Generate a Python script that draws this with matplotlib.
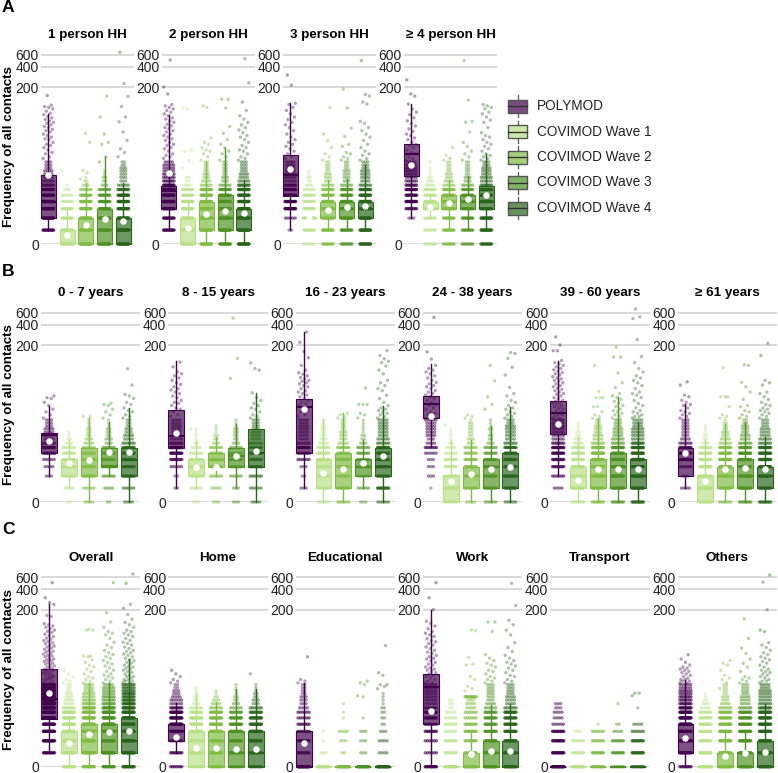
import numpy as np
import matplotlib
matplotlib.use('Agg')
import matplotlib.pyplot as plt
from matplotlib.colors import to_rgba
from matplotlib.patches import Rectangle

plt.rcParams['font.family'] = ['Liberation Sans', 'DejaVu Sans']

W, H = 778, 773

SERIES = ['POLYMOD', 'COVIMOD Wave 1', 'COVIMOD Wave 2', 'COVIMOD Wave 3', 'COVIMOD Wave 4']
COLORS = ['#40004b', '#b8e186', '#7fbc41', '#4d9221', '#276419']
YTICKS = [0, 200, 400, 600]

# the discrete rows of low values seen in every box
LEVELS = [0, 0.6, 1.4, 2.3, 3.2, 4.2, 5.3, 6.3, 7.4, 8.5, 9.6, 10.8, 12, 13.4, 15]

# each box: low whisker, q1, median, q3, high whisker, mean
A_TITLES = ['1 person HH', '2 person HH', '3 person HH', '≥ 4 person HH']
A_BOXES = [
    [(.6, 1.4, 3.2, 9.2, 81, 9.3), (0, 0, 0, .6, 2.3, .35), (0, 0, .6, 1.4, 6.9, .9), (0, 0, .6, 2.3, 18, 1.3), (0, 0, .6, 1.4, 6.9, 1.2)],
    [(.6, 2.3, 5, 6.1, 77, 10), (0, 0, .6, 1.4, 3.2, .7), (0, .6, 1.4, 3.2, 15, 1.75), (0, .6, 1.4, 4.2, 25, 2), (0, .6, 1.4, 2.3, 7.7, 1.85)],
    [(.6, 4, 9.3, 19, 115, 11.8), (1.4, 1.4, 1.4, 1.4, 1.4, 1.4), (.6, 1.4, 2.3, 3.2, 7.7, 2.2), (.6, 1.4, 2.3, 3.2, 8, 2.5), (.6, 1.4, 2.3, 3.2, 13.4, 2.6)],
    [(1.4, 9, 20, 28, 112, 13.4), (1.4, 2.3, 2.3, 3.2, 4.2, 2.5), (.6, 2.3, 3.2, 4.2, 7.7, 3), (.6, 2.3, 3.2, 4.2, 9, 3.6), (.6, 2.3, 3.2, 6.1, 20, 4.2)],
]
A_COUNTS = [
    [[0, 10, 12, 14, 14, 14, 12, 7, 5, 4, 4, 4, 3, 3, 3], [12, 10, 9, 8, 6, 5, 3, 1], [14, 14, 12, 11, 10, 9, 6, 3, 2, 1], [14, 14, 12, 11, 10, 9, 7, 3, 2, 2, 1, 1], [15, 15, 14, 13, 12, 11, 9, 5, 3, 3, 3, 3, 3, 2, 2]],
    [[0, 10, 10, 14, 15, 15, 15, 10, 7, 6, 6, 5, 5, 5, 4], [13, 13, 13, 12, 11, 9, 7, 3, 2, 2], [12, 14, 13, 13, 12, 12, 10, 5, 4, 3, 3, 2, 2, 2, 2], [11, 13, 12, 12, 11, 10, 9, 5, 3, 3, 2, 2, 2, 2, 2], [15, 15, 15, 14, 14, 13, 12, 8, 5, 4, 4, 3, 3, 3, 3]],
    [[0, 2, 5, 12, 11, 12, 12, 8, 5, 5, 5, 4, 4, 4, 4], [5, 8, 10, 8, 7, 7, 5, 3, 2, 2, 1, 1], [8, 10, 10, 10, 10, 10, 8, 5, 3, 3, 3, 2, 2, 2, 2], [8, 10, 11, 11, 11, 10, 9, 5, 3, 3, 3, 3, 2, 2, 2], [12, 13, 13, 13, 12, 12, 10, 6, 4, 4, 4, 4, 3, 3, 3]],
    [[0, 0, 3, 8, 11, 10, 10, 8, 6, 5, 5, 5, 5, 5, 4], [6, 6, 7, 9, 9, 8, 7, 4, 3, 2, 1, 1, 1, 0, 1], [8, 9, 9, 10, 10, 10, 9, 5, 4, 3, 3, 2, 2, 2, 2], [7, 8, 9, 10, 10, 9, 8, 5, 3, 3, 2, 2, 2, 2, 2], [10, 12, 12, 12, 12, 12, 11, 7, 5, 5, 4, 4, 4, 3, 3]],
]
A_TAILS = [
    [[17, 18, 20, 21, 23, 25, 27, 28, 30, 33, 34, 36, 38, 40, 43, 45, 47, 50, 52, 55, 58, 60, 63, 66, 70, 73, 78, 82, 88, 95, 100, 103, 108, 150],
     [11], [8, 10, 11, 30, 41], [15, 18, 28, 30, 40, 72, 147],
     [18, 21, 24, 32, 43, 61, 72, 103, 145, 225, 650]],
    [[17, 18, 19, 20, 22, 24, 25, 27, 28, 30, 32, 34, 36, 38, 40, 43, 45, 48, 50, 53, 56, 60, 63, 67, 70, 75, 80, 85, 90, 95, 100, 105, 110, 158, 200, 500],
     [12, 16, 22, 23, 95, 98], [16, 18, 20, 22, 23, 25, 28, 30, 35, 100, 105], [16, 18, 20, 22, 25, 28, 33, 41, 52, 98, 132, 132],
     [16, 17, 18, 20, 22, 23, 25, 27, 30, 33, 36, 38, 42, 46, 50, 55, 60, 67, 75, 90, 120, 230, 520]],
    [[17, 18, 20, 22, 24, 26, 28, 30, 33, 36, 40, 45, 50, 55, 60, 66, 72, 80, 90, 100, 110, 115, 213, 300],
     [], [16, 18, 20, 25, 32, 40, 100], [16, 17, 18, 20, 21, 26, 28, 37, 49, 98, 187],
     [16, 17, 19, 20, 22, 25, 28, 32, 36, 40, 45, 50, 58, 62, 112, 120, 147, 155, 490]],
    [[16, 17, 18, 20, 21, 23, 25, 27, 28, 30, 33, 35, 38, 40, 44, 48, 53, 58, 63, 70, 78, 85, 95, 112, 147, 158, 255],
     [], [16, 17, 19, 25], [16, 18, 20, 22, 26, 30, 43, 60, 62, 128, 490],
     [16, 17, 18, 19, 20, 22, 24, 26, 28, 30, 33, 36, 38, 42, 50, 60, 65, 72, 80, 85, 95, 100, 105, 110]],
]

B_TITLES = ['0 - 7 years', '8 - 15 years', '16 - 23 years', '24 - 38 years', '39 - 60 years', '≥ 61 years']
B_BOXES = [
    [(1.4, 4.2, 8.7, 9.2, 25, 6.9), (.6, 1.4, 2.3, 3.3, 7, 2.7), (0, 1.4, 3.2, 5.3, 16, 3.1), (1.4, 2.3, 2.4, 5.3, 14, 4.4), (0, 1.4, 3.2, 5.3, 23, 4.4)],
    [(.6, 5.3, 8.3, 21.7, 115, 9.3), (.6, 1.4, 2.3, 3.3, 7, 2.3), (1.4, 2.3, 3.2, 4.3, 8, 2.3), (.6, 2.3, 3.7, 5.3, 13, 3.7), (0, 2.3, 4.3, 10.7, 39, 4.6)],
    [(.6, 4.2, 24, 31, 310, 22), (0, .6, 3.2, 3.3, 15.5, 1.7), (0, .6, 3.3, 4.2, 19, 2.1), (.6, 1.4, 2.3, 3.3, 7, 2.7), (0, 1.4, 2.3, 5.3, 25, 3.7)],
    [(5.4, 16, 26, 35, 105, 17), (0, 0, .6, 1.5, 7, 1), (0, .6, 1.4, 2.3, 7, 1.6), (0, .6, 2.3, 3.3, 12, 2), (0, .6, 1.4, 4.3, 24, 2.3)],
    [(1.4, 9, 19, 29, 118, 13), (0, .6, 1.4, 2.3, 8, 1.1), (0, .6, 1.4, 3.3, 16, 2), (0, .6, 2.3, 4.3, 34, 2), (0, .6, 1.4, 3.3, 14, 2)],
    [(.6, 1.4, 3.2, 5.3, 26, 4.2), (0, 0, .6, 1.5, 7, 1), (0, .6, 1.4, 2.3, 13, 2), (0, .6, 1.4, 3.3, 14, 2.2), (0, .6, 1.4, 2.3, 8, 2)],
]
B_COUNTS = [
    [[0, 0, 3, 4, 5, 8, 10, 6, 4, 4, 4, 4, 3, 3, 3], [2, 4, 7, 8, 7, 7, 6, 3, 2, 1, 1], [4, 5, 8, 8, 8, 7, 6, 4, 3, 2, 2, 2, 1, 1, 1], [2, 4, 6, 7, 7, 7, 6, 3, 3, 2, 2, 2, 1, 1, 1], [4, 5, 9, 9, 9, 9, 9, 6, 4, 4, 3, 3, 2, 2, 2]],
    [[0, 2, 2, 5, 8, 10, 11, 7, 5, 4, 4, 4, 4, 4, 4], [3, 5, 6, 7, 7, 6, 4, 2, 1, 1, 1, 1], [3, 4, 6, 7, 7, 7, 6, 3, 2, 2, 1, 1, 1], [3, 3, 5, 6, 7, 6, 5, 3, 2, 2, 2, 2, 1, 1, 1], [4, 5, 6, 8, 8, 9, 8, 6, 4, 4, 4, 3, 3, 3, 3]],
    [[0, 3, 2, 3, 6, 7, 9, 6, 4, 4, 4, 4, 4, 4, 4], [5, 7, 7, 8, 9, 8, 7, 4, 3, 2, 2, 2, 2, 1, 1], [6, 8, 7, 8, 9, 8, 7, 4, 3, 3, 3, 2, 2, 2, 2], [3, 5, 5, 6, 7, 7, 6, 3, 2, 2, 1, 1, 1, 1, 1], [5, 9, 9, 10, 10, 10, 10, 6, 5, 4, 4, 4, 4, 4, 4]],
    [[0, 1, 3, 3, 3, 5, 7, 4, 3, 4, 4, 4, 4, 4, 5], [5, 6, 7, 7, 7, 5, 4, 2, 1, 1, 1, 1], [4, 7, 8, 8, 8, 7, 6, 3, 3, 2, 2, 2, 2, 2, 1], [5, 8, 8, 8, 8, 7, 6, 3, 2, 2, 1, 2, 1, 1, 1], [5, 9, 9, 10, 10, 10, 9, 6, 4, 4, 4, 4, 4, 3, 3]],
    [[0, 4, 6, 8, 9, 10, 10, 7, 5, 5, 5, 5, 5, 5, 5], [6, 9, 10, 10, 9, 9, 7, 4, 3, 2, 2, 1, 1, 1], [7, 9, 10, 11, 11, 11, 10, 6, 4, 4, 3, 3, 3, 2, 2], [7, 10, 11, 11, 11, 11, 10, 6, 5, 4, 4, 4, 3, 3, 3], [9, 11, 12, 12, 12, 12, 11, 8, 5, 5, 5, 5, 4, 4, 4]],
    [[0, 4, 3, 6, 8, 9, 9, 6, 4, 3, 3, 3, 3, 3, 3], [8, 10, 10, 11, 10, 9, 7, 3, 2, 2, 1, 1, 1], [6, 9, 10, 10, 11, 10, 9, 5, 4, 3, 3, 2, 2, 2, 1], [7, 10, 10, 11, 11, 11, 9, 6, 4, 4, 3, 3, 3, 2, 2], [8, 10, 10, 11, 11, 11, 10, 6, 5, 4, 4, 4, 3, 3, 3]],
]
B_TAILS = [
    [[16, 18, 20, 22, 25, 28, 32, 33, 35], [], [17, 17], [16, 18, 20, 22, 25, 26, 27], [16, 17, 18, 20, 21, 23, 26, 28, 32, 35, 37, 51, 89]],
    [[17, 18, 20, 22, 23, 25, 27, 28, 30, 33, 35, 38, 40, 43, 45, 48, 52, 55, 60, 65, 70, 75, 80, 95, 112], [11], [], [64, 127, 500], [16, 17, 18, 20, 22, 23, 25, 27, 30, 33, 39, 85, 90, 109]],
    [[17, 18, 20, 22, 23, 25, 27, 28, 30, 32, 34, 36, 38, 40, 42, 45, 48, 50, 53, 55, 58, 60, 63, 66, 70, 74, 78, 85, 100, 130, 160, 220, 310], [], [16, 17, 18, 19], [16, 18, 19, 26, 26, 26, 46], [16, 17, 18, 19, 20, 21, 22, 23, 25, 28, 32, 36, 42, 45, 50, 55, 60, 75, 85, 98, 110, 115, 125, 140, 165]],
    [[16, 17, 18, 19, 20, 22, 23, 25, 26, 28, 30, 32, 34, 36, 38, 40, 42, 45, 48, 50, 53, 56, 60, 65, 70, 75, 80, 85, 90, 100, 124, 158, 510], [12.5], [16, 17, 18], [22, 26, 34, 59, 100], [16, 17, 18, 19, 20, 22, 23, 25, 28, 30, 35, 38, 47, 72, 94, 127, 150, 155]],
    [[16, 16, 17, 18, 18, 19, 20, 21, 22, 23, 24, 25, 26, 27, 28, 29, 30, 32, 33, 35, 37, 38, 40, 42, 44, 46, 48, 50, 53, 55, 58, 60, 63, 65, 68, 72, 75, 78, 82, 86, 90, 95, 100, 105, 110, 118, 165, 165, 200, 263],
     [], [16, 17, 18, 20, 24, 24, 33, 33, 33, 41, 100], [16, 17, 18, 19, 20, 21, 22, 24, 25, 27, 29, 31, 33, 35, 38, 47, 55, 77, 133, 133, 187],
     [16, 17, 17, 18, 19, 20, 21, 23, 25, 27, 30, 33, 36, 38, 40, 45, 50, 55, 60, 65, 70, 80, 90, 110, 135, 240, 490, 520, 680]],
    [[16, 17, 18, 19, 20, 21, 23, 25, 26, 28, 30, 34, 36, 51, 57], [], [16, 17, 18, 24, 34, 34, 34, 92], [16, 17, 18, 20, 21, 24, 25, 31, 40, 48, 56, 100, 102], [16, 17, 18, 19, 20, 21, 22, 23, 25, 26, 28, 31, 34, 38, 40, 51, 55, 60, 140, 213]],
]

C_TITLES = ['Overall', 'Home', 'Educational', 'Work', 'Transport', 'Others']
C_BOXES = [
    [(.6, 4, 9, 26, 240, 11), (0, .6, 1.4, 2.3, 4.2, 1.2), (0, .6, 2.3, 3.2, 16, 2), (0, .6, 2.3, 3.2, 16, 2.2), (0, .6, 1.4, 4.2, 37, 2.3)],
    [(.6, 1.4, 2.3, 3.2, 7.7, 1.75), (0, 0, 1.4, 2.3, 11, .85), (0, 0, 1.4, 2.3, 8, .85), (0, 0, .6, 2.3, 12.6, .8), (0, 0, .6, 2.3, 12.6, .8)],
    [(0, 0, 0, 2.3, 16, 1.2), (0, 0, 0, 0, 0, .05), (0, 0, 0, 0, 0, .05), (0, 0, 0, 0, 0, .05), (0, 0, 0, 0, 0, .05)],
    [(0, 3.2, 14, 22, 200, 5.6), (0, 0, 0, 0, 0, .1), (0, 0, 0, .6, 2.1, .55), (0, 0, .6, 1.4, 7, .7), (0, 0, .6, 1.4, 7.4, .7)],
    [(0, 0, 0, 0, 0, .05), (0, 0, 0, 0, 0, .05), (0, 0, 0, 0, 0, .05), (0, 0, 0, 0, 0, .05), (0, 0, 0, 0, 0, .05)],
    [(0, .6, 1.4, 3.2, 18, 1.6), (0, 0, 0, 0, 0, .2), (0, 0, 0, .6, 2.1, .45), (0, 0, .6, .6, 2.3, .6), (0, 0, .6, 1.4, 7.4, .66)],
]
C_COUNTS = [
    [[0, 10, 14, 16, 16, 16, 16, 16, 16, 16, 16, 16, 16, 16, 16], [12, 14, 14, 14, 14, 13, 12, 7, 4, 4, 3, 3, 2, 2, 2], [11, 14, 14, 15, 15, 14, 14, 10, 7, 6, 5, 5, 4, 4, 4], [11, 14, 15, 15, 15, 15, 14, 10, 7, 6, 6, 5, 5, 5, 4], [12, 14, 15, 16, 16, 16, 16, 12, 10, 9, 8, 8, 7, 7, 7]],
    [[7, 8, 6, 9, 13, 13, 12, 8, 5, 5, 4, 3, 3, 2, 2], [9, 11, 11, 12, 12, 11, 9, 6, 3, 2, 2, 1, 1, 1], [9, 11, 11, 12, 12, 11, 10, 6, 4, 3, 2, 1, 1], [8, 10, 11, 11, 11, 10, 8, 5, 3, 2, 2, 1, 1, 1, 1], [8, 10, 11, 12, 11, 11, 9, 6, 3, 3, 2, 2, 1, 1, 1]],
    [[16, 8, 8, 7, 7, 6, 6, 4, 3, 3, 3, 2, 2, 2, 2], [10, 3, 1, 1], [14, 2, 3, 4, 0, 1, 1, 0, 1], [12, 3, 3, 3, 0, 1, 0, 0, 0, 0, 1], [15, 4, 4, 3, 2, 2, 2, 2, 1, 1, 1, 1]],
    [[10, 6, 6, 8, 7, 9, 9, 7, 5, 5, 5, 5, 5, 5, 5], [11, 7, 7, 5, 6, 5, 4, 2, 2, 2], [12, 8, 8, 9, 8, 6, 6, 4, 4, 3, 9], [13, 10, 10, 10, 9, 9, 8, 5, 4, 3, 3, 3, 3, 3, 3], [13, 11, 11, 11, 11, 10, 10, 6, 4, 4, 4, 3, 3, 3, 3]],
    [[14, 11, 10, 9, 5, 4, 4, 3, 3], [10, 7, 6, 3], [8, 9, 7, 6, 1], [6, 8, 7, 4, 2, 0, 0, 0, 1], [8, 10, 9, 6, 4, 0, 0, 1]],
    [[8, 12, 14, 14, 14, 14, 14, 10, 8, 7, 7, 6, 6, 5, 5], [11, 10, 9, 9, 9, 8, 7, 4, 3, 2, 1, 1], [12, 11, 12, 12, 11, 10, 9, 6, 4, 3, 3, 2, 2, 2, 2], [13, 12, 12, 12, 12, 11, 10, 6, 4, 4, 4, 3, 3, 3, 3], [14, 13, 13, 13, 13, 12, 12, 8, 6, 5, 5, 5, 5, 4, 4]],
]
C_TAILS = [
    [[16, 16, 17, 17, 18, 18, 19, 19, 20, 20, 21, 21, 22, 23, 23, 24, 25, 25, 26, 27, 28, 29, 30, 31, 32, 33, 34, 35, 36, 37, 38, 40, 41, 42, 44, 45, 47, 48, 50, 52, 54, 56, 58, 60, 63, 65, 68, 70, 73, 76, 80, 83, 87, 92, 96, 100, 105, 110, 115, 120, 124, 158, 165, 240, 255, 300, 500],
     [16, 17, 18, 20, 22, 25], [16, 17, 18, 19, 20, 22, 24, 26, 28, 30, 33, 36, 40, 41, 41, 100, 100, 103], [16, 17, 18, 19, 20, 21, 22, 24, 25, 27, 29, 31, 33, 35, 38, 40, 43, 46, 50, 55, 60, 66, 75, 85, 90, 95, 110, 132, 180, 500],
     [16, 16, 17, 17, 18, 18, 19, 20, 20, 21, 22, 23, 24, 25, 26, 27, 28, 29, 30, 32, 33, 35, 36, 38, 40, 42, 44, 46, 48, 50, 53, 56, 60, 63, 66, 70, 75, 80, 85, 90, 95, 100, 110, 120, 130, 145, 170, 210, 240, 490, 670]],
    [[16, 17, 18, 20, 22, 25], [], [], [], [22]],
    [[16, 17, 18, 40], [], [], [10, 15, 16, 17], [13, 14, 15, 15, 21, 23, 59]],
    [[16, 16, 17, 18, 19, 20, 21, 22, 23, 24, 25, 26, 27, 28, 30, 31, 33, 35, 37, 38, 40, 42, 45, 47, 50, 53, 56, 60, 63, 67, 70, 75, 80, 85, 90, 95, 105, 115, 125, 135, 200, 300, 500],
     [], [12, 13, 14, 18, 20, 30, 31, 39, 98, 100], [16, 17, 18, 19, 20, 22, 24, 25, 28, 30, 32, 35, 38, 43, 95, 132, 132],
     [16, 17, 18, 20, 21, 23, 25, 27, 29, 31, 33, 35, 38, 42, 48, 55, 65, 85, 100, 120, 140, 230, 490]],
    [[], [], [], [], [10, 11, 11]],
    [[16, 16, 17, 17, 18, 18, 19, 20, 21, 22, 23, 24, 25, 26, 27, 28, 30, 33, 37, 43], [], [13, 16, 18, 19, 21, 25, 30, 32, 35], [16, 17, 18, 19, 20, 24, 28, 32, 37, 45, 54, 75, 147],
     [16, 17, 17, 18, 19, 20, 21, 22, 23, 24, 25, 26, 28, 30, 32, 34, 36, 38, 40, 43, 46, 50, 55, 60, 65, 95, 100, 200, 510, 650]],
]

GOLDEN = 0.618034
ROW_W = 0.56


def px_axes(fig, left, right, zero_y):
    # axes given in pixels of the final picture
    top = zero_y - 29.6 * np.log(701)
    return fig.add_axes([left / W, 1 - zero_y / H, (right - left) / W, (zero_y - top) / H])


def point_marks(counts, tail, color):
    # rows get wider and darker with the number of points, the tail is a plain narrow jitter
    xs, ys, cols = [], [], []
    for lv, n in zip(LEVELS, counts):
        if n == 0:
            continue
        w = min(ROW_W, (n - 1) * 0.13)
        a = min(0.85, 0.3 + 0.05 * n)
        for k in range(n):
            xs.append(w * (k / (n - 1) - 0.5) if n > 1 else 0.0)
            ys.append(lv)
            cols.append(to_rgba(color, a))
    for k, v in enumerate(tail):
        xs.append(ROW_W * ((k * GOLDEN) % 1 - 0.5))
        ys.append(v)
        cols.append(to_rgba(color, 0.38))
    return np.array(xs), ys, cols


def draw_facet(ax, title, boxes, counts, tails, xlo, xhi, box_w):
    ax.set_yscale('function', functions=(np.log1p, np.expm1))
    ax.set_ylim(0, 700)
    ax.set_xlim(xlo, xhi)
    ax.patch.set_visible(False)
    for s in ax.spines.values():
        s.set_visible(False)
    ax.set_xticks([])
    ax.set_yticks(YTICKS)
    ax.set_yticklabels([str(t) for t in YTICKS], fontsize=10)
    ax.yaxis.set_minor_locator(plt.NullLocator())
    ax.tick_params(axis='y', length=0, pad=1.5, labelcolor='#222222')
    ax.grid(axis='y', color='#cfcfcf', lw=1.1)
    ax.set_axisbelow(True)
    ax.set_title(title, fontsize=9.6, fontweight='bold', pad=8.5)

    for i in range(5):
        dx, ys, cols = point_marks(counts[i], tails[i], COLORS[i])
        ax.scatter(i + 1 + dx, ys, s=6, c=cols, lw=0, clip_on=False, zorder=2)

        low, q1, med, q3, high, mean = boxes[i]
        stats = [{'whislo': low, 'q1': q1, 'med': med, 'q3': q3, 'whishi': high}]
        art = ax.bxp(stats, positions=[i + 1], widths=box_w, patch_artist=True, showcaps=False,
                     showfliers=False, manage_ticks=False, zorder=3,
                     boxprops=dict(facecolor=to_rgba(COLORS[i], 0.68), edgecolor=COLORS[i], lw=0.8),
                     medianprops=dict(color=COLORS[i], lw=1.5, solid_capstyle='butt'),
                     whiskerprops=dict(color=COLORS[i], lw=1.0))
        for group in art.values():
            for a in group:
                a.set_clip_on(False)
        if mean > 0.2:
            ax.scatter([i + 1], [mean], s=22, color='white', lw=0, clip_on=False, zorder=5)


def draw_panel(fig, lefts, width, zero_y, titles, boxes, counts, tails, margin_l, margin_r):
    for k, left in enumerate(lefts):
        ax = px_axes(fig, left, left + width, zero_y)
        draw_facet(ax, titles[k], boxes[k], counts[k], tails[k], 1 - margin_l, 5 + margin_r, 0.8)


fig = plt.figure(figsize=(W / 100, H / 100), dpi=100)

draw_panel(fig, [41, 161.5, 283, 404], 93, 244, A_TITLES, A_BOXES, A_COUNTS, A_TAILS, 0.39, 0.57)
SIX = [41, 168.3, 295.6, 422.9, 550.2, 677.5]
draw_panel(fig, SIX, 99.5, 502, B_TITLES, B_BOXES, B_COUNTS, B_TAILS, 0.4, 0.6)
draw_panel(fig, SIX, 99.5, 766.7, C_TITLES, C_BOXES, C_COUNTS, C_TAILS, 0.4, 0.6)

# panel letters and shared y labels
for letter, y in zip('ABC', [8, 271, 530]):
    fig.text(2 / W, 1 - y / H, letter, fontsize=12.5, fontweight='bold', va='center', ha='left')
for y in [147, 405, 670]:
    fig.text(9 / W, 1 - y / H, 'Frequency of all contacts', fontsize=9.6, fontweight='bold',
             rotation=90, va='center', ha='center')

# legend
lg = fig.add_axes([0, 0, 1, 1])
lg.set_xlim(0, W)
lg.set_ylim(H, 0)
lg.axis('off')
lg.patch.set_visible(False)
for name, col, y in zip(SERIES, COLORS, [106, 131.5, 157, 182.5, 208]):
    lg.plot([518, 518], [y - 11, y + 11], color='#555555', lw=0.9, zorder=1)
    lg.add_patch(Rectangle((508.5, y - 6.5), 19, 13, facecolor='white', edgecolor='none', zorder=2))
    lg.add_patch(Rectangle((508.5, y - 6.5), 19, 13, facecolor=to_rgba(col, 0.7),
                           edgecolor='#555555', lw=1.0, zorder=3))
    lg.plot([508.5, 527.5], [y, y], color='#333333', lw=1.0, zorder=4)
    lg.text(537, y, name, fontsize=9.8, va='center', ha='left', color='#222222')

fig.savefig('out.png', dpi=100)
